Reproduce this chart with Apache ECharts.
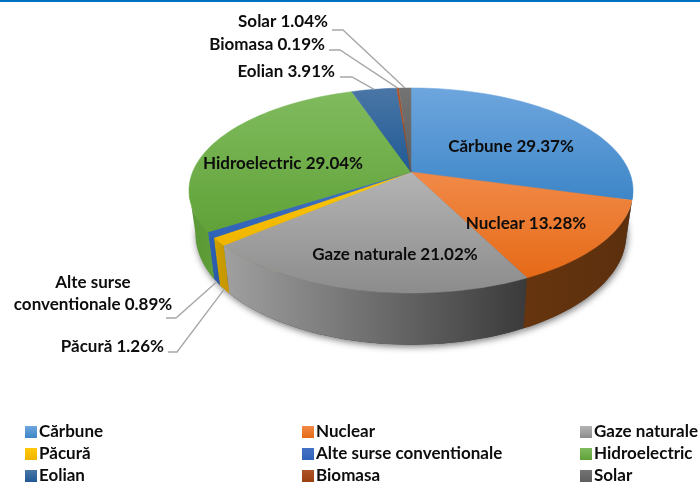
<!DOCTYPE html>
<html>
<head>
  <meta charset="UTF-8">
  <title>Productie energie</title>
  <style>
    html, body { margin: 0; padding: 0; background: #fff; }
    #main { width: 700px; height: 482px; }
  </style>
  <script src="https://cdn.jsdelivr.net/npm/echarts@6/dist/echarts.min.js"></script>
</head>
<body>
<div id="main"></div>
<script>
  var categories = ['Cărbune', 'Nuclear', 'Gaze naturale', 'Păcură', 'Alte surse conventionale', 'Hidroelectric', 'Eolian', 'Biomasa', 'Solar'];
  var values = [29.37, 13.28, 21.02, 1.26, 0.89, 29.04, 3.91, 0.19, 1.04];

  // slice top gradient, wall gradient (left to right)
  var topColors = [['#6ea6de', '#3d86c8'], ['#f18a48', '#e66a17'], ['#b4b4b4', '#8c8c8c'], ['#ffc90a', '#f0b400'], ['#4472c4', '#2f62b8'], ['#80bb5e', '#60a238'], ['#4a76a6', '#1f5a95'], ['#b0542a', '#9a4010'], ['#737373', '#5f5f5f']];
  var wallColors = [['#2a5d8c', '#2a5d8c'], ['#66350f', '#5c2f0d'], ['#a0a0a0', '#3a3a3a'], ['#cfa100', '#c49500'], ['#2f62b8', '#2a58a6'], ['#5a9636', '#5f9e38'], ['#1f4e79', '#1f4e79'], ['#843c0c', '#843c0c'], ['#555555', '#555555']];

  // label placement: [x, y, align], leader: null or elbow points
  var labelPos = [[511, 147, 'center'], [526, 224, 'center'], [395, 255, 'center'], [164, 347, 'right'], [93, 294, 'center'], [283, 164, 'center'], [335, 72, 'right'], [325, 45, 'right'], [328, 22, 'right']];
  var leaders = [null, null, null, [[168, 352], [177, 352]], [[166, 318], [176, 318]], null, [[340, 77], [352, 77]], [[329, 50], [340, 50]], [[332, 30], [343, 30]]];
  var leaderOnBottom = [false, false, false, true, true, false, false, false, false];
  var labelLines = ['', '', '', '', 'Alte surse\nconventionale ', '', '', '', ''];

  // perspective disc
  var cx = 411, cy = 172, a = 218.4, b = 99.2, k = 0.18;
  var bottomDy = 42, bottomSx = 0.97, bottomSy = 1.08;
  var FONT = 'bold 17px Lato';

  function project(pct, bottom) {
    var t = pct / 100 * Math.PI * 2;
    var x = Math.sin(t), y = -Math.cos(t), d = 1 - k * y;
    return [cx + a * x / d * (bottom ? bottomSx : 1), cy + (bottom ? bottomDy + b * y / d * bottomSy : b * y / d)];
  }

  function arc(from, to, bottom) {
    var pts = [], n = Math.max(2, Math.ceil((to - from) * 2));
    for (var i = 0; i <= n; i++) pts.push(project(from + (to - from) * i / n, bottom));
    return pts;
  }

  function grad(c, horizontal) {
    return new echarts.graphic.LinearGradient(0, 0, horizontal ? 1 : 0, horizontal ? 0 : 1, [
      { offset: 0, color: c[0] }, { offset: 1, color: c[1] }
    ]);
  }

  var start = 0;
  var series = categories.map(function (name, i) {
    var from = start;
    start += values[i];
    return {
      name: name,
      type: 'custom',
      coordinateSystem: 'none',
      silent: true,
      itemStyle: { color: grad(topColors[i], false) },
      data: [[from, values[i]]],
      renderItem: function (params, api) {
        var s = api.value(0), v = api.value(1), e = s + v;
        var children = [];
        var lower = arc(s, e, true);
        // floor with the soft shadow
        children.push({
          type: 'polygon', z2: 0,
          shape: { points: [[cx, cy + bottomDy]].concat(lower) },
          style: { fill: wallColors[i][1], shadowBlur: 7, shadowColor: 'rgba(0,0,0,0.55)', shadowOffsetY: 2, shadowOffsetX: 1 }
        });
        // wall, only the part facing front
        var ws = Math.max(s, 27.9), we = Math.min(e, 72.1);
        if (we > ws) {
          var wall = arc(ws, we, false).concat(arc(ws, we, true).reverse());
          children.push({
            type: 'polygon', z2: 1,
            shape: { points: wall },
            style: { fill: grad(wallColors[i], true) }
          });
        }
        // top
        var fill = grad(topColors[i], false);
        children.push({
          type: 'polygon', z2: 2,
          shape: { points: [[cx, cy]].concat(arc(s, e, false)) },
          style: { fill: fill, stroke: fill, lineWidth: 0.5 }
        });
        // leader
        if (leaders[i]) {
          var anchor = project(s + v / 2, leaderOnBottom[i]);
          children.push({
            type: 'polyline', z2: 4,
            shape: { points: leaders[i].concat([anchor]) },
            style: { stroke: '#a6a6a6', lineWidth: 1.3, fill: null }
          });
        }
        var p = labelPos[i];
        var txt = labelLines[i] ? labelLines[i] + v.toFixed(2) + '%' : name + ' ' + v.toFixed(2) + '%';
        children.push({
          type: 'text', z2: 5,
          style: { text: txt, x: p[0], y: p[1], font: FONT, fill: '#0d0d0d', align: p[2], verticalAlign: 'middle', lineHeight: 22 }
        });
        return { type: 'group', children: children };
      }
    };
  });

  function legendColumn(col, left) {
    return {
      left: left,
      top: 423,
      height: 80,
      orient: 'vertical',
      selectedMode: false,
      icon: 'rect',
      itemWidth: 12,
      itemHeight: 12,
      itemGap: 4,
      padding: 0,
      textStyle: { fontFamily: 'Lato', fontWeight: 'bold', fontSize: 17, color: '#0d0d0d', padding: [0, 0, 0, -3], lineHeight: 18 },
      data: categories.filter(function (c, i) { return i % 3 === col; })
    };
  }

  var chart = echarts.init(document.getElementById('main'));
  chart.setOption({
    animation: false,
    backgroundColor: '#fff',
    graphic: [{ type: 'rect', left: 0, top: 0, shape: { width: 700, height: 2 }, style: { fill: '#0070c0' } }],
    legend: [legendColumn(0, 25), legendColumn(1, 302), legendColumn(2, 580)],
    series: series
  });
</script>
</body>
</html>
